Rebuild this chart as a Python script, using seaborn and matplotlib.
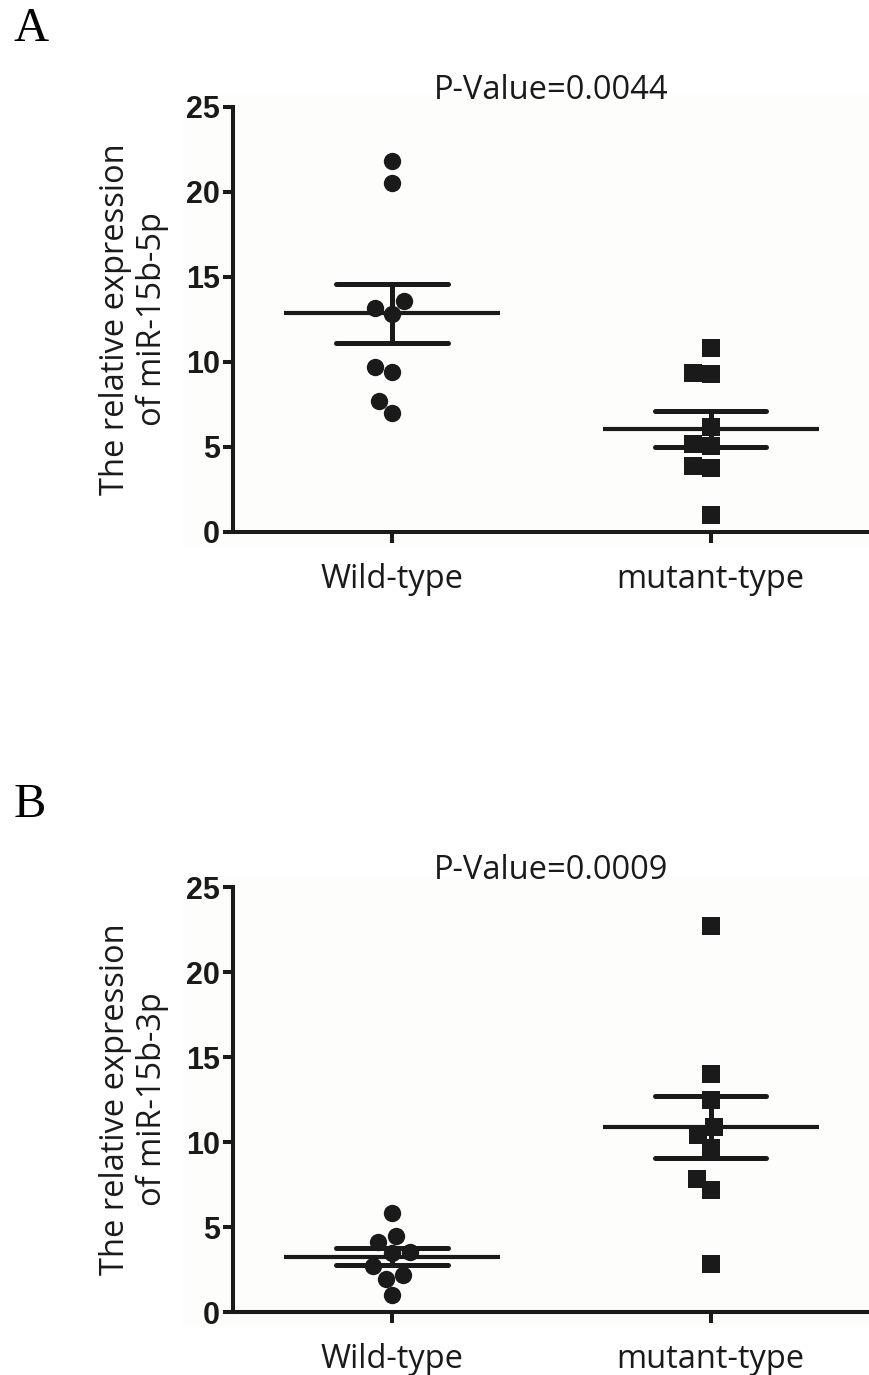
import pandas as pd
import matplotlib.pyplot as plt
import seaborn as sns
from matplotlib.patches import Rectangle

# --- Data ---
CATEGORIES = ['Wild-type', 'mutant-type']

MIR5P_WILD = [21.8, 20.5, 13.6, 13.2, 12.8, 9.7, 9.4, 7.7, 7.0]
MIR5P_MUTANT = [10.8, 9.35, 9.3, 6.2, 5.15, 5.05, 3.9, 3.75, 1.0]

MIR3P_WILD = [5.85, 4.45, 4.1, 3.55, 3.45, 2.7, 2.2, 1.95, 1.0]
MIR3P_MUTANT = [22.7, 14.0, 12.5, 10.9, 10.4, 9.65, 7.85, 7.2, 2.8]

P_VALUES = ['0.0044', '0.0009']
Y_LABELS = ['The relative expression\nof miR-15b-5p',
            'The relative expression\nof miR-15b-3p']
PANEL_LETTERS = ['A', 'B']

INK = '#1a1a1a'


def make_frame(wild, mutant):
    return pd.DataFrame({
        'group': [CATEGORIES[0]] * len(wild) + [CATEGORIES[1]] * len(mutant),
        'value': wild + mutant,
    })


def draw_panel(ax, df, p_value, ylabel):
    # individual points: circles for wild-type, squares for mutant
    for cat, marker in zip(CATEGORIES, ['o', 's']):
        sns.swarmplot(data=df[df['group'] == cat], x='group', y='value',
                      order=CATEGORIES, marker=marker, size=12.5,
                      color=INK, linewidth=0, ax=ax, clip_on=False, zorder=3)

    # mean line with SEM error bars
    sns.pointplot(data=df, x='group', y='value', order=CATEGORIES,
                  errorbar='se', capsize=0.35, color=INK,
                  markers='_', markersize=155, markeredgewidth=3.0,
                  linestyles='none',
                  err_kws={'linewidth': 3.6, 'solid_capstyle': 'round'},
                  ax=ax, zorder=4)

    ax.set_xlim(-0.5, 1.5)
    ax.set_ylim(0, 25)
    ax.set_yticks([0, 5, 10, 15, 20, 25])
    ax.set_xlabel('')
    ax.set_ylabel(ylabel, family='Open Sans', fontsize=23.5,
                  labelpad=12, linespacing=1.15)
    ax.set_title(f'P-Value={p_value}', family='Open Sans',
                 fontsize=23.5, pad=3)

    for side in ['top', 'right']:
        ax.spines[side].set_visible(False)
    for side in ['left', 'bottom']:
        ax.spines[side].set_linewidth(2.9)
        ax.spines[side].set_color(INK)

    ax.tick_params(axis='both', width=2.9, color=INK, direction='out')
    ax.tick_params(axis='y', length=7.5, pad=2)
    ax.tick_params(axis='x', length=8, pad=14)
    for lab in ax.get_yticklabels():
        lab.set_family('Liberation Sans')
        lab.set_fontweight('bold')
        lab.set_fontsize(22)
    for lab in ax.get_xticklabels():
        lab.set_family('Open Sans')
        lab.set_fontsize(23.5)
    ax.set_facecolor('none')


def create_figure():
    sns.set_theme(style='ticks')
    plt.rcParams['font.family'] = ['Open Sans', 'DejaVu Sans']
    plt.rcParams['text.color'] = INK
    plt.rcParams['axes.labelcolor'] = INK
    plt.rcParams['xtick.color'] = INK
    plt.rcParams['ytick.color'] = INK

    fig = plt.figure(figsize=(8.69, 13.75), dpi=100)
    fig.patch.set_facecolor('white')

    frames = [make_frame(MIR5P_WILD, MIR5P_MUTANT),
              make_frame(MIR3P_WILD, MIR3P_MUTANT)]
    axes_bottoms = [0.6131, 0.0458]
    bg_bottoms = [0.6022, 0.0349]
    letter_y = [0.9702, 0.4058]

    for i in range(2):
        # faint panel background as in the source image
        fig.patches.append(Rectangle((0.2106, bg_bottoms[i]), 0.79, 0.3287,
                                     transform=fig.transFigure,
                                     facecolor='#fdfdfb', edgecolor='none',
                                     zorder=-5))
        ax = fig.add_axes([0.2681, axes_bottoms[i], 0.733, 0.3091])
        ax.set_zorder(1)
        draw_panel(ax, frames[i], P_VALUES[i], Y_LABELS[i])
        fig.text(0.016, letter_y[i], PANEL_LETTERS[i],
                 family='Liberation Serif', fontsize=35, va='baseline',
                 ha='left', color='black')

    fig.savefig('out.png', dpi=100)
    plt.close(fig)


if __name__ == '__main__':
    create_figure()
